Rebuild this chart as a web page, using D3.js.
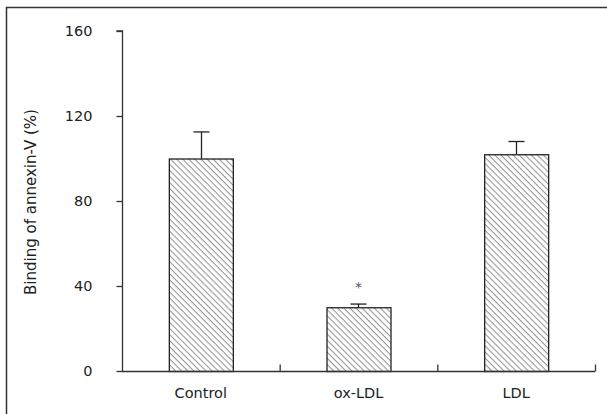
<!DOCTYPE html>
<html><head><meta charset="utf-8">
<script src="https://cdn.jsdelivr.net/npm/d3@7"></script>
<style>body{margin:0;background:#fff}svg{display:block}</style>
</head><body><svg id="c" width="607" height="414"></svg>
<script>
const categories = ["Control", "ox-LDL", "LDL"];
const means = [100, 30, 102];
const errors = [12.5, 1.5, 6];
const marks = ["", "*", ""];
const yTicks = [0, 40, 80, 120, 160];
const yLabel = "Binding of annexin-V (%)";

const svg = d3.select("#c");
const fontFam = "'DejaVu Sans', sans-serif";

// outer frame
svg.append("rect").attr("x", 6.5).attr("y", 7.5).attr("width", 620).attr("height", 420)
  .attr("fill", "none").attr("stroke", "#333").attr("stroke-width", 1.5);

const x = d3.scaleBand().domain(categories).range([122, 595]).paddingInner(0).paddingOuter(0);
const y = d3.scaleLinear().domain([0, 160]).range([371, 31]);
const barW = 64;

const defs = svg.append("defs");
const ps = 4.3;
const pat = defs.append("pattern").attr("id", "hatch").attr("patternUnits", "userSpaceOnUse")
  .attr("width", ps).attr("height", ps).attr("patternTransform", "rotate(45)");
pat.append("rect").attr("width", ps).attr("height", ps).attr("fill", "#fff");
pat.append("line").attr("x1", 0).attr("y1", 0).attr("x2", ps).attr("y2", 0)
  .attr("stroke", "#959595").attr("stroke-width", 2.1);

const g = svg.append("g");

// bars
g.selectAll("rect.bar").data(categories).join("rect").attr("class", "bar")
  .attr("x", d => x(d) + x.bandwidth() / 2 - barW / 2 + 0.5)
  .attr("y", (d, i) => y(means[i]) + 0.5)
  .attr("width", barW)
  .attr("height", (d, i) => y(0) - y(means[i]))
  .attr("fill", "url(#hatch)").attr("stroke", "#222").attr("stroke-width", 1.3);

// error bars
categories.forEach((c, i) => {
  const cx = Math.round(x(c) + x.bandwidth() / 2) + 0.5;
  g.append("line").attr("x1", cx).attr("x2", cx).attr("y1", y(means[i])).attr("y2", y(means[i] + errors[i]))
    .attr("stroke", "#222").attr("stroke-width", 1.3);
  g.append("line").attr("x1", cx - 8).attr("x2", cx + 8).attr("y1", y(means[i] + errors[i])).attr("y2", y(means[i] + errors[i]))
    .attr("stroke", "#222").attr("stroke-width", 1.3);
  if (marks[i]) g.append("text").attr("x", cx).attr("y", y(means[i] + errors[i]) - 12)
    .attr("text-anchor", "middle").attr("font-size", 14).attr("fill", "#555").style("font-family", fontFam).text(marks[i]);
});

// y axis
const yAxis = d3.axisLeft(y).tickValues(yTicks).tickSize(6).tickPadding(24).tickFormat(d3.format("d"));
const ya = svg.append("g").attr("transform", "translate(122.5,0)").call(yAxis);
ya.select(".domain").attr("stroke", "#333").attr("stroke-width", 1.3).attr("d", `M-6,${y(160)}H0V${y(0)}`);
ya.selectAll(".tick line").attr("stroke", "#333").attr("stroke-width", 1.3);
ya.selectAll(".tick text").attr("font-size", 14.5).attr("fill", "#222").style("font-family", fontFam);

// x axis
const xa = svg.append("g").attr("transform", `translate(0,${y(0) + 0.5})`);
xa.append("line").attr("x1", 122).attr("x2", 595).attr("stroke", "#333").attr("stroke-width", 1.3);
xa.selectAll("line.tk").data(categories).join("line").attr("class", "tk")
  .attr("x1", d => x(d) + x.bandwidth() + 0.5).attr("x2", d => x(d) + x.bandwidth() + 0.5)
  .attr("y1", 0).attr("y2", -7).attr("stroke", "#333").attr("stroke-width", 1.3);
xa.selectAll("text").data(categories).join("text")
  .attr("x", d => x(d) + x.bandwidth() / 2).attr("y", 26)
  .attr("text-anchor", "middle").attr("font-size", 14.5).attr("fill", "#222").style("font-family", fontFam).text(d => d);

// y label
svg.append("text").attr("transform", "translate(36,202) rotate(-90)")
  .attr("text-anchor", "middle").attr("font-size", 15).attr("fill", "#222").style("font-family", fontFam).text(yLabel);
</script></body></html>
